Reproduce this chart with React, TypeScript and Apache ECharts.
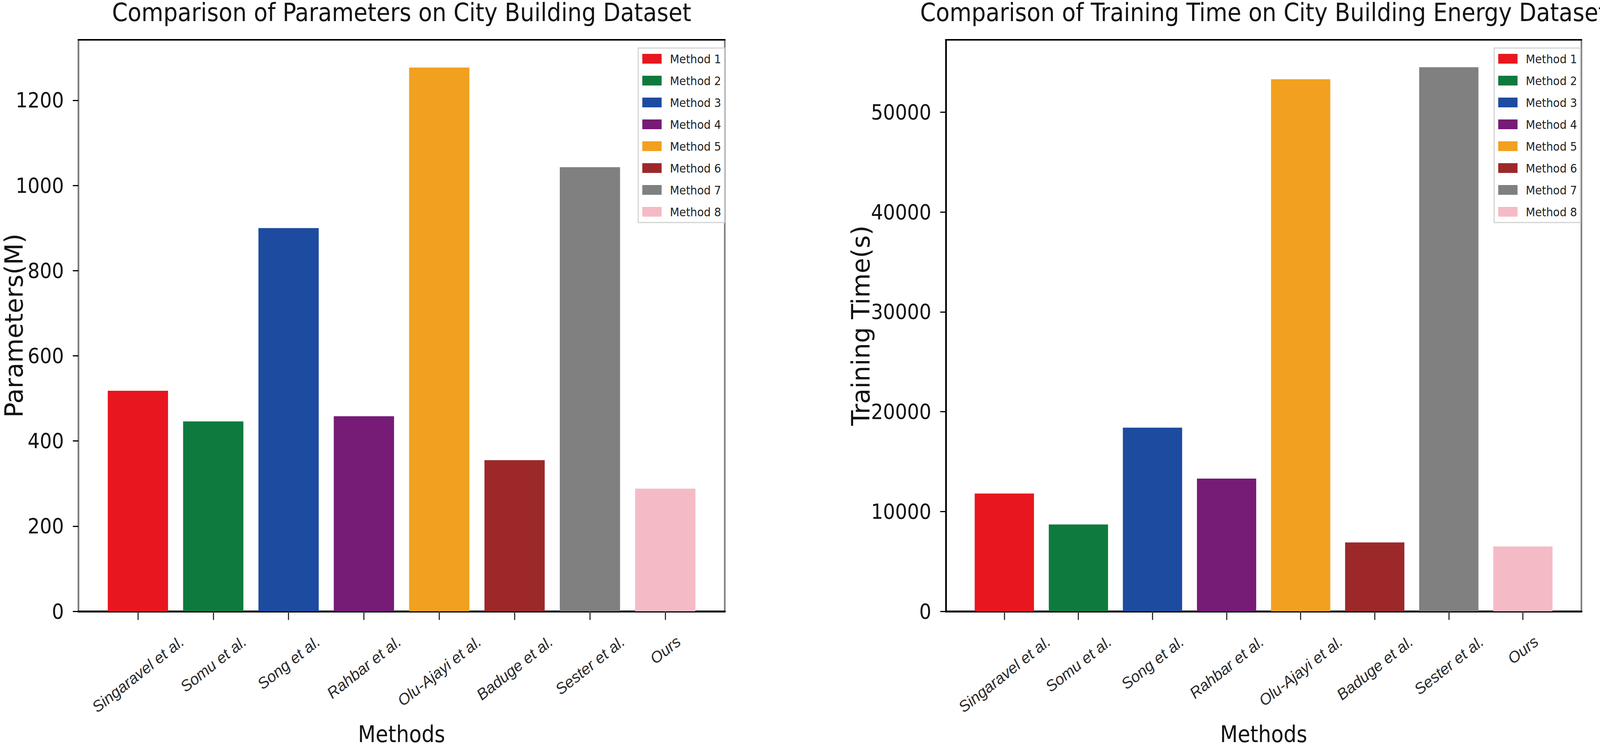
import React, { useEffect, useRef } from 'react';
import * as echarts from 'echarts';

const categories = ['Singaravel et al.', 'Somu et al.', 'Song et al.', 'Rahbar et al.', 'Olu-Ajayi et al.', 'Baduge et al.', 'Sester et al.', 'Ours'];
const methodNames = ['Method 1', 'Method 2', 'Method 3', 'Method 4', 'Method 5', 'Method 6', 'Method 7', 'Method 8'];
const methodColors = ['#E8161F', '#0F7A3D', '#1D4B9F', '#761B76', '#F2A01F', '#9D282A', '#808080', '#F4BBC6'];
const paramValues = [518, 446, 900, 458, 1277, 355, 1043, 288];
const timeValues = [11800, 8700, 18400, 13300, 53300, 6900, 54500, 6500];
const paramTicks = [0, 200, 400, 600, 800, 1000, 1200];
const timeTicks = [0, 10000, 20000, 30000, 40000, 50000];
const paramMax = 1342;
const timeMax = 57250;
const chartTitles = ['Comparison of Parameters on City Building Dataset', 'Comparison of Training Time on City Building Energy Dataset'];
const yNames = ['Parameters(M)', 'Training Time(s)'];
const xName = 'Methods';

// reference design size
const REF_W = 4307;
const REF_H = 1911;
const NARROW = "'Liberation Sans Narrow', 'DejaVu Sans Condensed', 'Liberation Sans', sans-serif";
const WIDE = "'DejaVu Sans', sans-serif";
const XLABEL_FONT = "'Liberation Sans', 'DejaVu Sans', sans-serif";
const BASE_ROT = 37;

// layout in reference pixels
const gridsRef = [
  { left: 211, top: 102, width: 1740, height: 1464 },
  { left: 2546, top: 102, width: 1711, height: 1464 },
];
const legendRef = [
  { left: 1718, top: 123 },
  { left: 4022, top: 123 },
];
const yNameBaselineRef = [61, 2340];

function measure(text: string, font: string): number {
  const c = document.createElement('canvas').getContext('2d');
  if (!c) return text.length * 20;
  c.font = font;
  return c.measureText(text).width;
}

export default function App() {
  const ref = useRef<HTMLDivElement>(null);
  const PW = Math.min(REF_W, (typeof window !== 'undefined' && window.innerWidth) || REF_W);
  const PH = Math.min(REF_H, (typeof window !== 'undefined' && window.innerHeight) || REF_H);
  useEffect(() => {
    if (!ref.current) return;
    const sx = PW / REF_W;
    const sy = PH / REF_H;
    const chart = echarts.init(ref.current, null, { renderer: 'svg', width: PW, height: PH });
    const n = categories.length;
    const span = n - 1 + 0.8;
    const xMin = -0.4 - 0.05 * span;
    const xMax = n - 1 + 0.4 + 0.05 * span;
    const idx = categories.map((_, i) => i);
    const rot = (Math.atan(Math.tan((BASE_ROT * Math.PI) / 180) * (sy / sx)) * 180) / Math.PI;
    const th = (rot * Math.PI) / 180;
    const xLabelSize = Math.round(42 * sx);
    const rich: Record<string, any> = {};
    categories.forEach((c, i) => {
      const w = measure(c, `italic ${xLabelSize}px 'Liberation Sans'`);
      const d = (w * Math.sin(th)) / 2;
      rich['l' + i] = {
        fontSize: xLabelSize,
        fontFamily: XLABEL_FONT,
        fontStyle: 'italic',
        color: '#2a2a2a',
        padding: [2 * d * Math.cos(th), 2 * d * Math.sin(th), 0, 0],
      };
    });
    const grids = gridsRef.map((g) => ({ left: g.left * sx, top: g.top * sy, width: g.width * sx, height: g.height * sy }));
    const yNameSize = 64;
    const values = [paramValues, timeValues];
    const maxes = [paramMax, timeMax];
    const ticks = [paramTicks, timeTicks];
    const xAxes: any[] = [];
    const yAxes: any[] = [];
    const series: any[] = [];
    grids.forEach((g, c) => {
      xAxes.push({
        type: 'value',
        gridIndex: c,
        min: xMin,
        max: xMax,
        position: 'bottom',
        name: xName,
        nameLocation: 'middle',
        nameGap: 286 * sy,
        nameMoveOverlap: false,
        nameTextStyle: { fontFamily: NARROW, fontSize: Math.round(61 * sx), color: '#111' },
        axisLine: { show: true, onZero: false, lineStyle: { color: '#000', width: 5 } },
        axisTick: { show: true, length: 22 * sy, lineStyle: { color: '#333', width: 3 }, customValues: idx },
        axisLabel: {
          show: true,
          customValues: idx,
          rotate: rot,
          align: 'center',
          verticalAlign: 'middle',
          margin: 72 * sy,
          formatter: (v: number) => {
            const i = Math.round(v);
            return `{l${i}|${categories[i]}}`;
          },
          rich,
        },
        splitLine: { show: false },
      });
      xAxes.push({
        type: 'value',
        gridIndex: c,
        min: xMin,
        max: xMax,
        position: 'top',
        axisLine: { show: true, onZero: false, lineStyle: { color: '#000', width: 4 } },
        axisTick: { show: false },
        axisLabel: { show: false },
        splitLine: { show: false },
      });
      const baseline = yNameBaselineRef[c] * sx;
      yAxes.push({
        type: 'value',
        gridIndex: c,
        min: 0,
        max: maxes[c],
        position: 'left',
        name: yNames[c],
        nameLocation: 'middle',
        nameGap: g.left - baseline - 0.16 * yNameSize,
        nameMoveOverlap: false,
        nameTextStyle: { fontFamily: WIDE, fontSize: yNameSize, color: '#111' },
        axisLine: { show: true, onZero: false, lineStyle: { color: c === 0 ? '#7a7a7a' : '#000', width: 4 } },
        axisTick: { show: true, length: 15 * sx, lineStyle: { color: '#000', width: 3 }, customValues: ticks[c] },
        axisLabel: {
          show: true,
          customValues: ticks[c],
          margin: 39 * sx,
          fontFamily: NARROW,
          fontSize: Math.round(57 * sx),
          color: '#111',
          formatter: (v: number) => String(v),
        },
        splitLine: { show: false },
      });
      const bw = (0.8 * g.width) / (xMax - xMin);
      categories.forEach((_, i) => {
        series.push({
          type: 'bar',
          name: methodNames[i],
          xAxisIndex: c * 2,
          yAxisIndex: c,
          data: [[i, values[c][i]]],
          barWidth: bw,
          barGap: '-100%',
          itemStyle: { color: methodColors[i] },
          emphasis: { disabled: true },
        });
      });
    });
    const legendFont = Math.round(32.5 * sx);
    chart.setOption({
      animation: false,
      backgroundColor: '#ffffff',
      title: grids.map((g, c) => ({
        text: chartTitles[c],
        left: g.left + g.width / 2,
        top: 0,
        padding: 0,
        textAlign: 'center',
        textStyle: { fontFamily: NARROW, fontSize: Math.round(67 * sx), fontWeight: 'normal', color: '#111' },
      })),
      legend: legendRef.map((p) => ({
        data: methodNames,
        orient: 'vertical',
        left: p.left * sx,
        top: p.top * sy,
        icon: 'rect',
        itemWidth: 52 * sx,
        itemHeight: 25 * sy,
        itemGap: 56 * sy - legendFont,
        selectedMode: false,
        padding: [12 * sy, 9 * sx, 12 * sy, 11 * sx],
        backgroundColor: '#ffffff',
        borderColor: '#d4d4d4',
        borderWidth: 3,
        textStyle: { fontFamily: NARROW, fontSize: legendFont, color: '#222', padding: [0, 0, 0, 17 * sx] },
      })),
      grid: grids.map((g) => ({
        left: g.left,
        top: g.top,
        width: g.width,
        height: g.height,
        show: true,
        containLabel: false,
        outerBoundsMode: 'none',
        borderColor: '#7a7a7a',
        borderWidth: 4,
        backgroundColor: 'transparent',
      })),
      xAxis: xAxes,
      yAxis: yAxes,
      series,
    });
    return () => chart.dispose();
  }, [PW, PH]);
  return <div ref={ref} style={{ position: 'fixed', left: 0, top: 0, width: PW, height: PH, background: '#fff' }} />;
}
